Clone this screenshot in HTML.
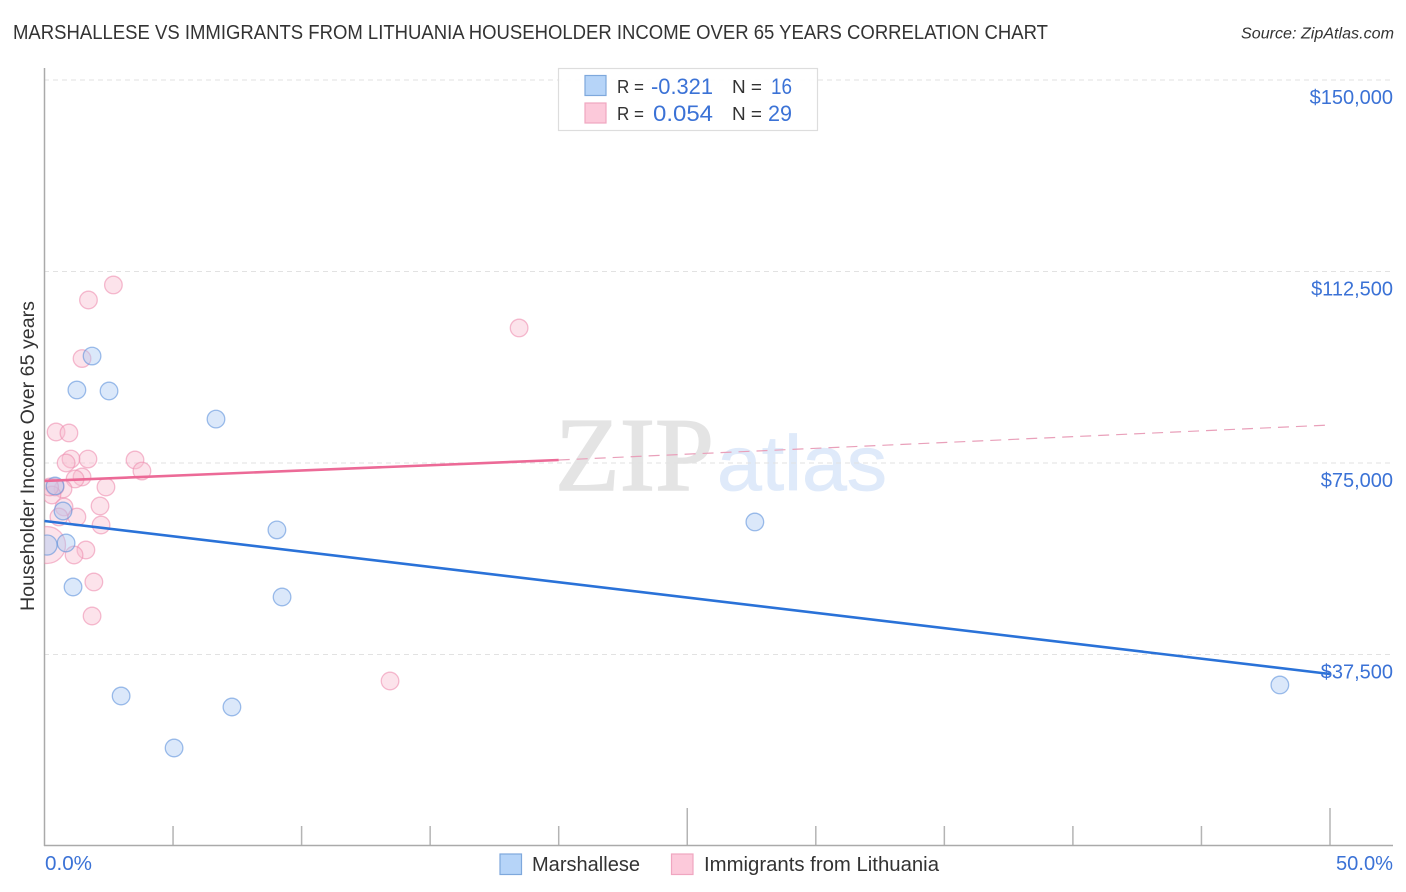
<!DOCTYPE html>
<html lang="en">
<head>
<meta charset="utf-8">
<title>Marshallese vs Immigrants from Lithuania Householder Income Over 65 Years Correlation Chart</title>
<style>
html,body{margin:0;padding:0;background:#fff;}
svg{display:block;font-family:"Liberation Sans",sans-serif;}
</style>
</head>
<body>
<svg id="chart" xmlns="http://www.w3.org/2000/svg" width="1406" height="892" viewBox="0 0 1406 892">
  <defs>
    <clipPath id="plot-clip"><rect x="44.5" y="60" width="1360" height="786"/></clipPath>
  </defs>
  <rect x="0" y="0" width="1406" height="892" fill="#ffffff"/>
  <text x="13" y="39" font-size="20" fill="#333333" textLength="1035" lengthAdjust="spacingAndGlyphs">MARSHALLESE VS IMMIGRANTS FROM LITHUANIA HOUSEHOLDER INCOME OVER 65 YEARS CORRELATION CHART</text>
  <text x="1241" y="38.500" font-size="15.500" font-style="italic" fill="#333333" textLength="153" lengthAdjust="spacingAndGlyphs">Source: ZipAtlas.com</text>

  <g>
    <text x="555" y="490" font-family="'Liberation Serif',serif" font-size="105" fill="#e4e4e4" stroke="#e4e4e4" stroke-width="1.500" textLength="159" lengthAdjust="spacingAndGlyphs">ZIP</text>
    <text x="717" y="490" font-size="78" fill="#dfeafa" stroke="#dfeafa" stroke-width="0.800" textLength="170" lengthAdjust="spacingAndGlyphs">atlas</text>
  </g>

  <g id="grid"></g>
  <g id="x-ticks"></g>
  <line x1="44.500" y1="68" x2="44.500" y2="846" stroke="#aaaaaa" stroke-width="1.500"/>
  <line x1="44" y1="845.500" x2="1393" y2="845.500" stroke="#aaaaaa" stroke-width="1.500"/>

  <g id="points" clip-path="url(#plot-clip)"></g>
  <g id="trends"></g>
  <g id="y-labels"></g>

  <text x="45" y="870" font-size="20" fill="#3b72d6" textLength="47" lengthAdjust="spacingAndGlyphs">0.0%</text>
  <text x="1336" y="870" font-size="20" fill="#3b72d6" textLength="57" lengthAdjust="spacingAndGlyphs">50.0%</text>
  <text transform="translate(34 611) rotate(-90)" font-size="19.500" fill="#333333" textLength="310" lengthAdjust="spacingAndGlyphs">Householder Income Over 65 years</text>

  <g>
    <rect x="558.500" y="68.500" width="259" height="62" fill="#ffffff" fill-opacity="0.900" stroke="#dddddd" stroke-width="1.200"/>
    <rect x="585" y="75.500" width="21" height="20" fill="#b6d4f8" stroke="#7ea8dc" stroke-width="1.200"/>
    <rect x="585" y="103" width="21" height="20" fill="#fcc9da" stroke="#f0a6c0" stroke-width="1.200"/>
    <text x="617" y="93" font-size="18.500" fill="#333333" textLength="27" lengthAdjust="spacingAndGlyphs">R =</text>
    <text x="651" y="94" font-size="22.500" fill="#3b72d6" textLength="62" lengthAdjust="spacingAndGlyphs">-0.321</text>
    <text x="732" y="93" font-size="18.500" fill="#333333" textLength="30" lengthAdjust="spacingAndGlyphs">N =</text>
    <text x="771" y="94" font-size="22.500" fill="#3b72d6" textLength="21" lengthAdjust="spacingAndGlyphs">16</text>
    <text x="617" y="120" font-size="18.500" fill="#333333" textLength="27" lengthAdjust="spacingAndGlyphs">R =</text>
    <text x="653" y="121" font-size="22.500" fill="#3b72d6" textLength="60" lengthAdjust="spacingAndGlyphs">0.054</text>
    <text x="732" y="120" font-size="18.500" fill="#333333" textLength="30" lengthAdjust="spacingAndGlyphs">N =</text>
    <text x="768" y="121" font-size="22.500" fill="#3b72d6" textLength="24" lengthAdjust="spacingAndGlyphs">29</text>
  </g>

  <g>
    <rect x="500" y="854" width="21.500" height="20.500" fill="#b6d4f8" stroke="#7ea8dc" stroke-width="1.200"/>
    <text x="532" y="871" font-size="20" fill="#333333" textLength="108" lengthAdjust="spacingAndGlyphs">Marshallese</text>
    <rect x="671.500" y="854" width="21.500" height="20.500" fill="#fcc9da" stroke="#f0a6c0" stroke-width="1.200"/>
    <text x="704" y="871" font-size="20" fill="#333333" textLength="235" lengthAdjust="spacingAndGlyphs">Immigrants from Lithuania</text>
  </g>
</svg>

<script>
const yTickValues = [150000, 112500, 75000, 37500];
const yTickLabels = ["$150,000", "$112,500", "$75,000", "$37,500"];
const xTickValues = [5, 10, 15, 20, 25, 30, 35, 40, 45, 50];
const xMajorTicks = [25, 50];

const marshalleseX = [1.85, 1.26, 2.51, 6.67, 9.04, 27.63, 9.24, 2.98, 7.29, 5.04, 48.05, 1.11, 0.84, 0.72, 0.41, 0.10];
const marshalleseY = [95950, 89300, 89100, 83600, 61900, 63450, 48760, 29375, 27220, 19190, 31530, 50720, 59335, 65600, 70500, 58940];
const marshalleseWeight = [1, 1, 1, 1, 1, 1, 1, 1, 1, 1, 1, 1, 1, 1, 1, 1.3];

const lithuaniaX = [2.68, 1.71, 1.46, 18.46, 0.45, 0.95, 1.69, 1.03, 0.84, 3.52, 3.79, 1.46, 1.19, 2.39, 0.72, 0.41, 0.29, 0.76, 2.16, 1.26, 0.56, 2.20, 1.61, 1.15, 1.92, 1.85, 13.44, 0.20, 0.10];
const lithuaniaY = [109860, 106920, 95460, 101440, 81070, 80880, 75780, 75780, 75000, 75590, 73430, 72260, 71870, 70300, 69910, 70300, 68735, 66385, 66580, 64430, 64430, 62860, 57965, 56985, 51700, 45040, 32310, 70300, 58940];
const lithuaniaWeight = [1, 1, 1, 1, 1, 1, 1, 1, 1, 1, 1, 1, 1, 1, 1, 1, 1, 1, 1, 1, 1, 1, 1, 1, 1, 1, 1, 1, 4.4];

const marshalleseTrendX = [0, 50];
const marshalleseTrendY = [63640, 33680];
const lithuaniaSolidTrendX = [0, 20];
const lithuaniaSolidTrendY = [71480, 75590];
const lithuaniaDashTrendX = [20, 50];
const lithuaniaDashTrendY = [75590, 82440];

const NS = "http://www.w3.org/2000/svg";
const xScale = function (v) { return 44.5 + v * 25.71; };
const yScale = function (v) { return 80 + (150000 - v) / 37500 * 191.5; };

const grid = document.getElementById("grid");
const yLabels = document.getElementById("y-labels");
yTickValues.forEach(function (v, i) {
  const line = document.createElementNS(NS, "line");
  
  
  line.setAttribute("x1", 44);
  line.setAttribute("x2", 1393);
  line.setAttribute("y1", yScale(v));
  line.setAttribute("y2", yScale(v));
  line.setAttribute("stroke", "#e2e2e2");
  line.setAttribute("stroke-width", 1);
  line.setAttribute("stroke-dasharray", "5 4");
  grid.appendChild(line);

  const label = document.createElementNS(NS, "text");
  
  
  label.setAttribute("x", 1393);
  label.setAttribute("y", yScale(v) + 24);
  label.setAttribute("text-anchor", "end");
  label.setAttribute("font-size", 20);
  label.setAttribute("fill", "#3b72d6");
  label.textContent = yTickLabels[i];
  yLabels.appendChild(label);
});

const xTicks = document.getElementById("x-ticks");
xTickValues.forEach(function (v) {
  const tick = document.createElementNS(NS, "line");
  
  
  tick.setAttribute("x1", xScale(v));
  tick.setAttribute("x2", xScale(v));
  tick.setAttribute("y1", xMajorTicks.includes(v) ? 808 : 826);
  tick.setAttribute("y2", 845);
  tick.setAttribute("stroke", "#b4b4b4");
  tick.setAttribute("stroke-width", 1.5);
  xTicks.appendChild(tick);
});

const points = document.getElementById("points");
function drawSeries(xs, ys, weights, fill, stroke, pointName) {
  xs.forEach(function (x, i) {
    const c = document.createElementNS(NS, "circle");
    
    
    c.setAttribute("cx", xScale(x));
    c.setAttribute("cy", yScale(ys[i]));
    c.setAttribute("r", 8.8 * Math.sqrt(weights[i]));
    c.setAttribute("fill", fill);
    c.setAttribute("fill-opacity", 0.42);
    c.setAttribute("stroke", stroke);
    c.setAttribute("stroke-opacity", 0.6);
    c.setAttribute("stroke-width", 1.3);
    points.appendChild(c);
  });
}
drawSeries(lithuaniaX, lithuaniaY, lithuaniaWeight, "#f9bdd0", "#ee8fb0", "lithuania-point");
drawSeries(marshalleseX, marshalleseY, marshalleseWeight, "#a9c9f4", "#5f93dc", "marshallese-point");

const trends = document.getElementById("trends");
function drawTrend(xs, ys, color, width, dash, lineName) {
  const l = document.createElementNS(NS, "line");
  
  
  l.setAttribute("x1", xScale(xs[0]));
  l.setAttribute("y1", yScale(ys[0]));
  l.setAttribute("x2", xScale(xs[1]));
  l.setAttribute("y2", yScale(ys[1]));
  l.setAttribute("stroke", color);
  l.setAttribute("stroke-width", width);
  if (dash) l.setAttribute("stroke-dasharray", dash);
  trends.appendChild(l);
}
drawTrend(lithuaniaDashTrendX, lithuaniaDashTrendY, "#e9a0ba", 1.2, "11 7", "lithuania-trend-extension");
drawTrend(lithuaniaSolidTrendX, lithuaniaSolidTrendY, "#ec6a97", 2.6, "", "lithuania-trend-line");
drawTrend(marshalleseTrendX, marshalleseTrendY, "#2a72d8", 2.6, "", "marshallese-trend-line");
</script>
</body>
</html>
